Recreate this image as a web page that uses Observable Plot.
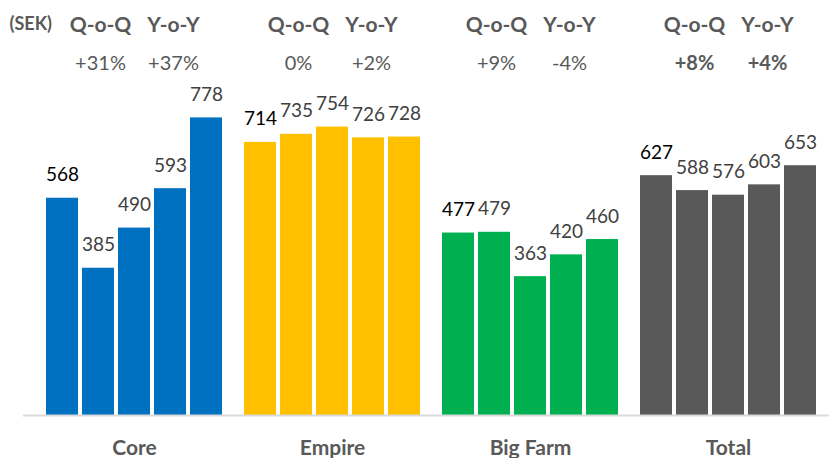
<!DOCTYPE html>
<html>
<head>
<meta charset="utf-8">
<script src="https://cdn.jsdelivr.net/npm/d3@7"></script>
<script src="https://cdn.jsdelivr.net/npm/@observablehq/plot@0.6"></script>
<style>
  html, body { margin: 0; padding: 0; background: #fff; }
</style>
</head>
<body>
<div id="chart"></div>
<script>
const groups = ["Core", "Empire", "Big Farm", "Total"];
const core = [568, 385, 490, 593, 778];
const empire = [714, 735, 754, 726, 728];
const bigFarm = [477, 479, 363, 420, 460];
const total = [627, 588, 576, 603, 653];
const qoq = ["+31%", "0%", "+9%", "+8%"];
const yoy = ["+37%", "+2%", "-4%", "+4%"];
const colors = ["#0070C0", "#FFC000", "#00B050", "#595959"];
const unitLabel = "(SEK)";

const series = [core, empire, bigFarm, total];
const data = groups.flatMap((g, gi) => series[gi].map((v, i) => ({group: g, q: i, value: v})));
const heads = groups.map((g, i) => ({group: g, qoq: qoq[i], yoy: yoy[i], bold: g === "Total"}));
const headsPlain = heads.filter(d => !d.bold);
const headsBold = heads.filter(d => d.bold);

const chart = Plot.plot({
  width: 829,
  height: 458,
  marginTop: 109,
  marginBottom: 43,
  marginLeft: 44,
  marginRight: 10,
  style: {fontFamily: "Lato, sans-serif", background: "#fff"},
  fx: {domain: groups, paddingInner: 0.1, paddingOuter: 0, axis: null, label: null},
  x: {domain: [0, 1, 2, 3, 4], paddingInner: 0.1, paddingOuter: 0, axis: null},
  y: {domain: [0, 800], axis: null},
  color: {domain: groups, range: colors},
  marks: [
    Plot.barY(data, {fx: "group", x: "q", y: "value", fill: "group"}),
    Plot.ruleY([0], {fx: () => "Core", stroke: "#d9d9d9", strokeWidth: 2, insetLeft: -22, insetRight: -606}),
    Plot.text(data, {fx: "group", x: "q", y: "value", text: d => String(d.value), dy: -23,
      fontSize: 19, fill: d => d.q === 0 ? "#000" : "#404040"}),
    Plot.text(heads, {fx: "group", frameAnchor: "top", text: () => "Q-o-Q", dx: -34, dy: -92,
      fontSize: 21, fontWeight: "bold", fill: "#595959"}),
    Plot.text(heads, {fx: "group", frameAnchor: "top", text: () => "Y-o-Y", dx: 39, dy: -92,
      fontSize: 21, fontWeight: "bold", fill: "#595959"}),
    Plot.text(headsPlain, {fx: "group", frameAnchor: "top", text: "qoq", dx: -34, dy: -54,
      fontSize: 20, fill: "#595959"}),
    Plot.text(headsPlain, {fx: "group", frameAnchor: "top", text: "yoy", dx: 39, dy: -54,
      fontSize: 20, fill: "#595959"}),
    Plot.text(headsBold, {fx: "group", frameAnchor: "top", text: "qoq", dx: -34, dy: -54,
      fontSize: 20, fontWeight: "bold", fill: "#595959"}),
    Plot.text(headsBold, {fx: "group", frameAnchor: "top", text: "yoy", dx: 39, dy: -54,
      fontSize: 20, fontWeight: "bold", fill: "#595959"}),
    Plot.text([unitLabel], {fx: () => "Core", frameAnchor: "top-left", text: d => d, dx: -36, dy: -92,
      fontSize: 18, fontWeight: "bold", fill: "#595959"}),
    Plot.text(groups, {fx: d => d, frameAnchor: "bottom", text: d => d, dy: 39,
      fontSize: 21, fontWeight: "bold", fill: "#595959"})
  ]
});
document.getElementById("chart").appendChild(chart);
</script>
</body>
</html>
